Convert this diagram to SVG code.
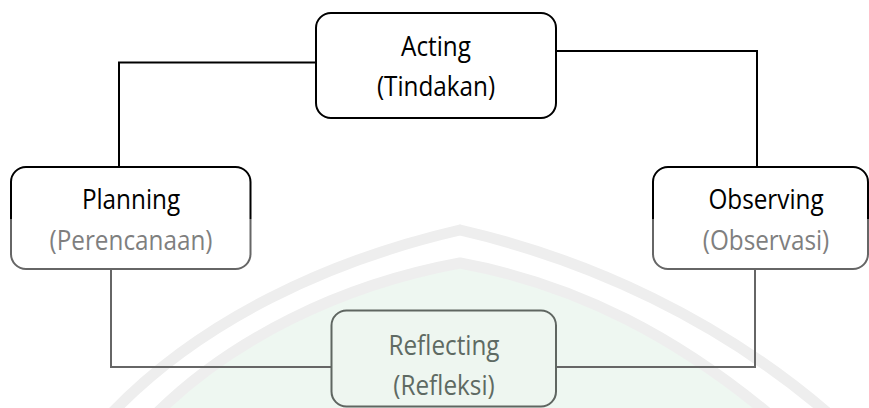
<svg xmlns="http://www.w3.org/2000/svg" width="869" height="408" viewBox="0 0 869 408">
  <defs>
    <linearGradient id="fade" gradientUnits="userSpaceOnUse" x1="0" y1="0" x2="0" y2="408">
      <stop offset="0" stop-color="#000000"/>
      <stop offset="0.537" stop-color="#000000"/>
      <stop offset="0.537" stop-color="#666666"/>
      <stop offset="1" stop-color="#666666"/>
    </linearGradient>
    <style>
      .box { fill: #ffffff; stroke: url(#fade); stroke-width: 2; }
      .lbl { font-family: "Open Sans", "Liberation Sans", sans-serif; font-size: 27px; text-anchor: middle; }
      .dark { fill: #000000; }
      .grey { fill: #7f7f7f; }
      .refl { fill: #5e6a63; }
      .conn { fill: none; stroke-width: 2; }
      .band { fill: none; stroke: #eeeeee; stroke-width: 11; }
    </style>
  </defs>
  <rect x="0" y="0" width="869" height="408" fill="#ffffff"/>
  <g id="watermark">
    <path d="M 155 415 C 230 340, 340 285, 460 263 C 580 285, 680 340, 770 415 Z" fill="#eef7f1"/>
    <path class="band" d="M 110 415 C 200 320, 330 260, 460 230 C 590 260, 720 320, 830 415"/>
    <path class="band" d="M 155 415 C 230 340, 340 285, 460 263 C 580 285, 680 340, 770 415"/>
  </g>
  <g id="connectors">
    <path class="conn" stroke="#000000" d="M 316 62.5 H 119 V 167"/>
    <path class="conn" stroke="#000000" d="M 556 51 H 757 V 167"/>
    <path class="conn" stroke="#666666" d="M 111 269 V 367 H 331.5"/>
    <path class="conn" stroke="#666666" d="M 755 269 V 367 H 556"/>
  </g>
  <g id="acting">
    <rect class="box" x="316" y="13" width="240" height="105" rx="15" ry="15"/>
    <text class="lbl dark" transform="translate(436 56) scale(0.9 1)">Acting</text>
    <text class="lbl dark" transform="translate(436 96) scale(0.9 1)">(Tindakan)</text>
  </g>
  <g id="planning">
    <rect class="box" x="11" y="167" width="239.5" height="102" rx="15" ry="15"/>
    <text class="lbl dark" transform="translate(131 209) scale(0.9 1)">Planning</text>
    <text class="lbl grey" transform="translate(131 250) scale(0.9 1)">(Perencanaan)</text>
  </g>
  <g id="observing">
    <rect class="box" x="653" y="167" width="215" height="102" rx="15" ry="15"/>
    <text class="lbl dark" transform="translate(766 209) scale(0.9 1)">Observing</text>
    <text class="lbl grey" transform="translate(766 250) scale(0.9 1)">(Observasi)</text>
  </g>
  <g id="reflecting">
    <rect x="331.5" y="310.5" width="224.5" height="96" rx="15" ry="15" fill="#eef6f0" stroke="#5f6661" stroke-width="2"/>
    <text class="lbl refl" transform="translate(444 355) scale(0.9 1)">Reflecting</text>
    <text class="lbl refl" transform="translate(444 395) scale(0.9 1)">(Refleksi)</text>
  </g>
</svg>
